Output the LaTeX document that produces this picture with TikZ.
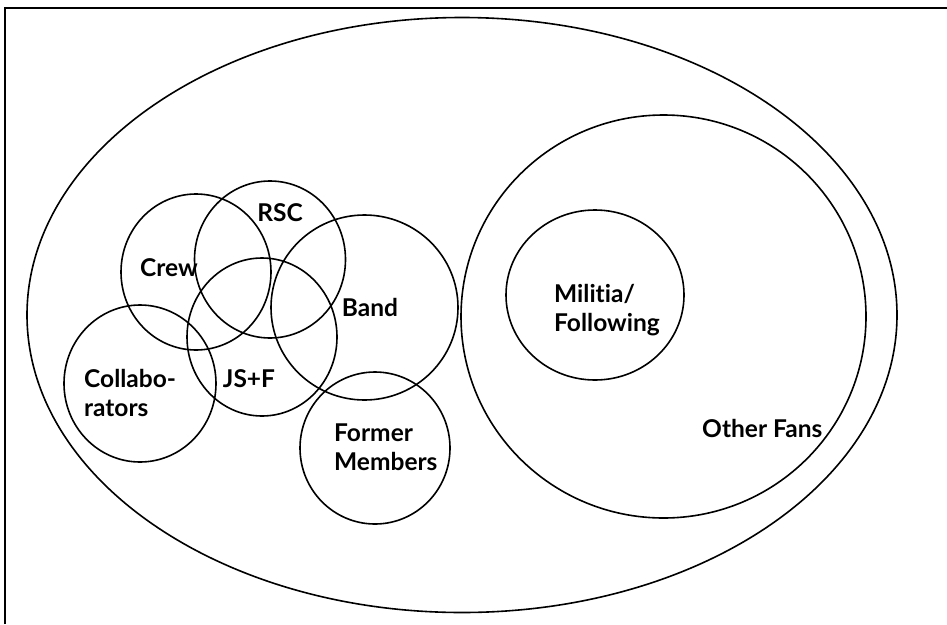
\documentclass[tikz,border=0pt]{standalone}
\usepackage{fontspec}
\setmainfont{Lato}[Ligatures=NoCommon]
\begin{document}
\begin{tikzpicture}[x=1pt,y=-1pt,
  set/.style={line width=1.6pt},
  frame/.style={line width=2.6pt},
  lbl/.style={font=\fontsize{24.5}{29}\selectfont\bfseries, inner sep=0pt, align=left}]
\useasboundingbox (0,0) rectangle (947,624);
% frame (top and left edges only)
\coordinate (fbl) at (5,624);
\coordinate (ftl) at (5,8);
\coordinate (ftr) at (947,8);
\draw[frame] (fbl) -- (ftl) -- (ftr);
% sets
\draw[set] (462,315) ellipse [x radius=435pt, y radius=297.5pt];
\draw[set] (663.5,316.5) ellipse [x radius=202.5pt, y radius=201.5pt];
\draw[set] (595,295) ellipse [x radius=89pt, y radius=85pt];
\draw[set] (196,272) ellipse [x radius=75pt, y radius=78pt];
\draw[set] (270,259.5) ellipse [x radius=75.5pt, y radius=78.5pt];
\draw[set] (364.5,307.5) ellipse [x radius=93.5pt, y radius=92.5pt];
\draw[set] (262,337) ellipse [x radius=75pt, y radius=79pt];
\draw[set] (140,383.5) ellipse [x radius=76pt, y radius=78.5pt];
\draw[set] (375,448) ellipse [x radius=75pt, y radius=76pt];
% labels
\node[lbl, anchor=base] (rsc) at (280,221.5) {RSC};
\node[lbl, anchor=base] (crew) at (169,276.5) {Crew};
\node[lbl, anchor=base] (band) at (370,316) {Band};
\node[lbl, anchor=base] (jsf) at (249,387) {JS+F};
\node[lbl, anchor=base west] (collab) at (84,416) {Collabo-\\rators};
\node[lbl, anchor=base west] (former) at (334,470) {Former\\Members};
\node[lbl, anchor=base west] (militia) at (554,331.5) {Militia/\\Following};
\node[lbl, anchor=base west] (others) at (702,437) {Other Fans};
\end{tikzpicture}
\end{document}
